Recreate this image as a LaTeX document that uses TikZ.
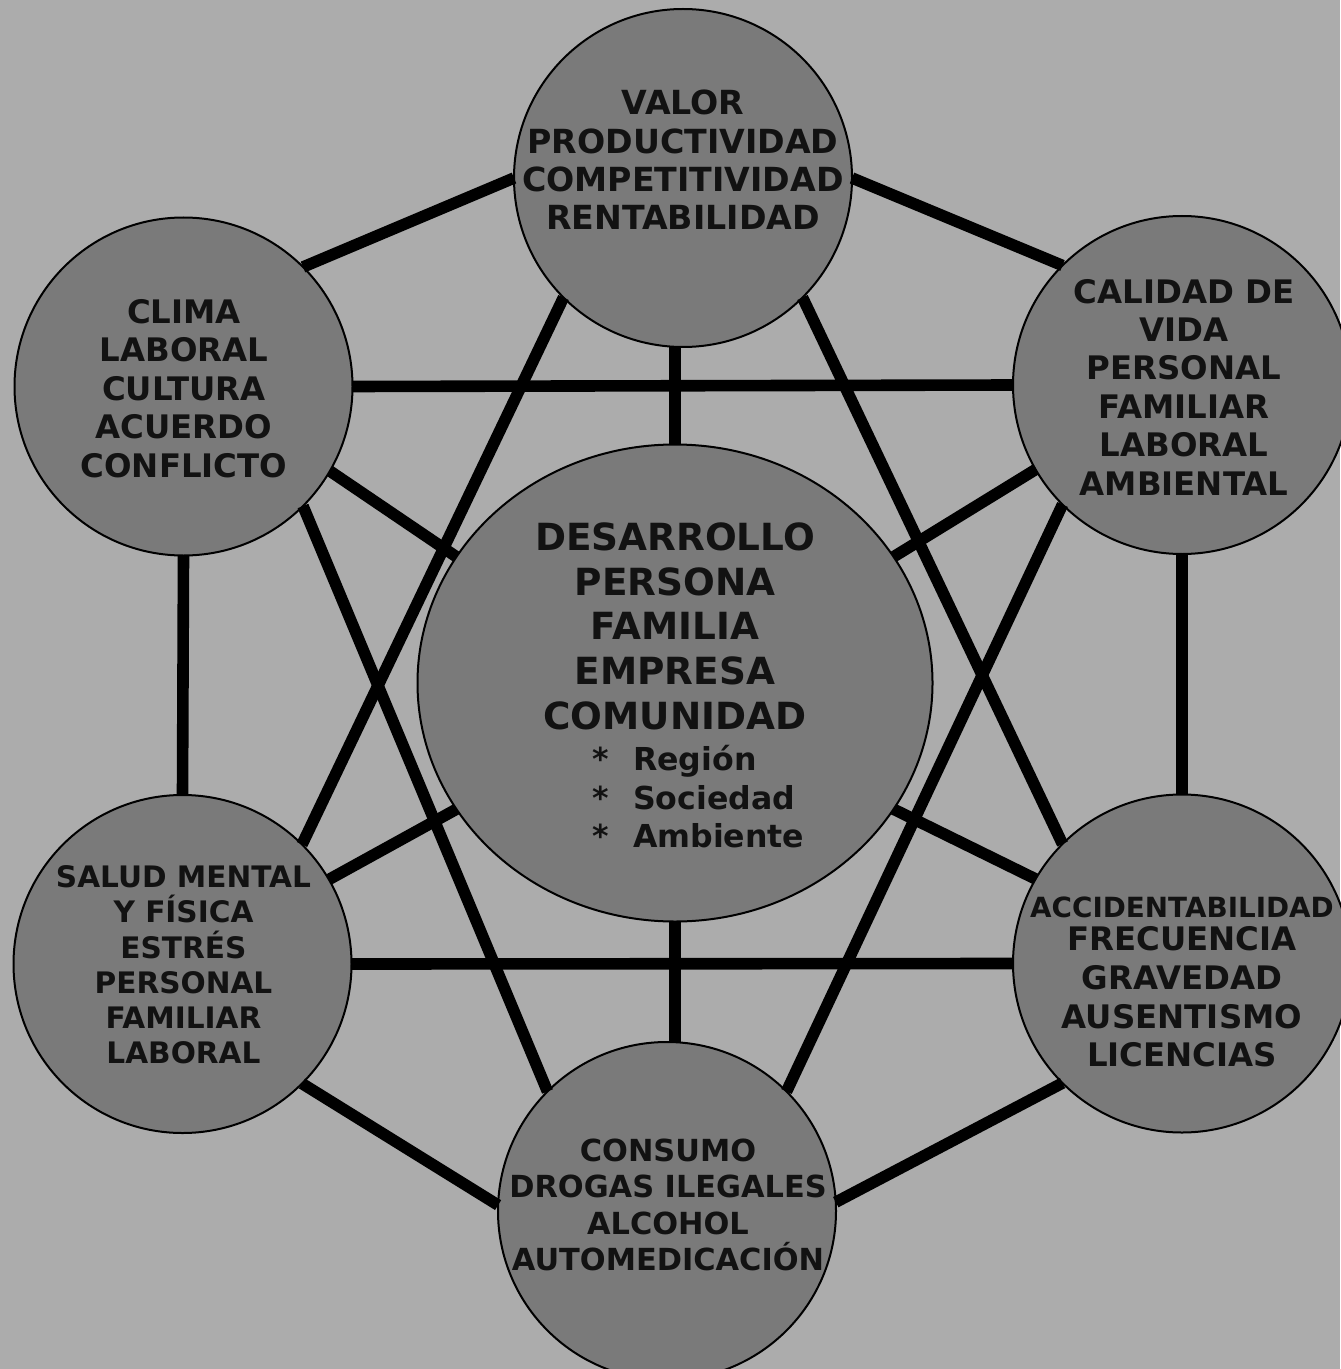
\documentclass[tikz,border=0pt]{standalone}
\usepackage{fontspec}
\setmainfont{DejaVu Sans}
\usetikzlibrary{shapes.geometric}
\definecolor{bgg}{RGB}{172,172,172}
\definecolor{cfill}{RGB}{122,122,122}
\begin{document}
\begin{tikzpicture}[x=0.5pt,y=-0.5pt,
  circ/.style={circle,draw=black,line width=1pt,fill=cfill,minimum size=169pt,inner sep=0pt,outer sep=0pt},
  ell/.style={ellipse,draw=black,line width=1pt,fill=cfill,minimum width=257.5pt,minimum height=238.5pt,inner sep=0pt,outer sep=0pt},
  txt/.style={align=center,inner sep=0pt,text=black!93,font=\bfseries\fontsize{16.2}{19.2}\selectfont},
  link/.style={line width=5.8pt,draw=black}]
\fill[bgg] (0,0) rectangle (1340,1369);
\useasboundingbox (0,0) rectangle (1340,1369);
% circles
\node[circ] (top) at (683,178) {};
\node[circ] (tl) at (183.5,386.5) {};
\node[circ] (tr) at (1182,385) {};
\node[circ] (bl) at (182.5,964) {};
\node[circ] (br) at (1182,963.5) {};
\node[circ] (bot) at (667,1211) {};
\node[ell] (c) at (675,683) {};
% connectors
\draw[link] (tl.45) -- (top.180);
\draw[link] (top.0) -- (tr.135);
\draw[link] (c.north) -- (c.north |- top.south);
\draw[link] (top.225) -- (bl.45);
\draw[link] (top.315) -- (br.135);
\draw[link] (tl.0) -- (tr.180);
\draw[link] (tl.-30) -- (c.150);
\draw[link] (tl.270) -- (bl.90);
\draw[link] (tl.-45) -- (bot.135);
\draw[link] (tr.210) -- (c.30);
\draw[link] (tr.270) -- (br.90);
\draw[link] (tr.225) -- (bot.45);
\draw[link] (bl.30) -- (c.210);
\draw[link] (bl.0) -- (br.180);
\draw[link] (bl.-45) -- (bot.178);
\draw[link] (br.150) -- (c.330);
\draw[link] (br.225) -- (bot.3);
\draw[link] (c.south) -- (c.south |- bot.north);
% texts
\node[txt,font=\bfseries\fontsize{16.6}{19.2}\selectfont] (topT) at (683,160) {VALOR\\PRODUCTIVIDAD\\COMPETITIVIDAD\\RENTABILIDAD};
\node[txt] (tlT) at (184,388.5) {CLIMA\\LABORAL\\CULTURA\\ACUERDO\\CONFLICTO};
\node[txt] (trT) at (1184,387) {CALIDAD DE\\VIDA\\PERSONAL\\FAMILIAR\\LABORAL\\AMBIENTAL};
\node[txt,font=\bfseries\fontsize{14.8}{17.6}\selectfont] (blT) at (183.5,965) {SALUD MENTAL\\Y FÍSICA\\ESTRÉS\\PERSONAL\\FAMILIAR\\LABORAL};
\node[txt,font=\bfseries\fontsize{16.2}{19.3}\selectfont] (brT) at (1182,982) {{\fontsize{13.9}{19.3}\selectfont ACCIDENTABILIDAD}\\[-2.5pt]FRECUENCIA\\GRAVEDAD\\AUSENTISMO\\LICENCIAS};
\node[txt,font=\bfseries\fontsize{15.2}{18.3}\selectfont] (botT) at (668,1205) {CONSUMO\\DROGAS ILEGALES\\ALCOHOL\\AUTOMEDICACIÓN};
\node[txt,font=\bfseries\fontsize{18.7}{22.3}\selectfont] (cT) at (675,691) {DESARROLLO\\PERSONA\\FAMILIA\\EMPRESA\\COMUNIDAD\\[-1.5pt]\hspace*{23.5pt}{\fontsize{15.8}{19.2}\selectfont\begin{tabular}[t]{@{}l@{\hspace{12pt}}l@{}}{*}&Región\\ {*}&Sociedad\\ {*}&Ambiente\end{tabular}}};
\end{tikzpicture}
\end{document}
